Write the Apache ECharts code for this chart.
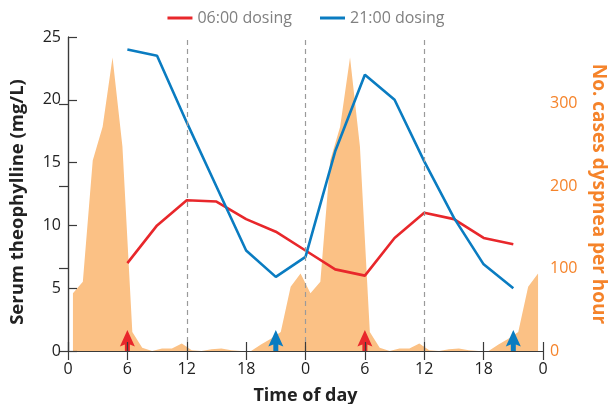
<!DOCTYPE html>
<html>
<head>
<meta charset="utf-8">
<script src="https://cdn.jsdelivr.net/npm/echarts@6/dist/echarts.min.js"></script>
<style>
  html, body { margin: 0; padding: 0; background: #fff; }
  #chart { width: 612px; height: 404px; }
</style>
</head>
<body>
<div id="chart"></div>
<script>
// Sampling hours for serum levels (0-48 h, double-plotted day)
const sampleHours = [6, 9, 12, 15, 18, 21, 24, 27, 30, 33, 36, 39, 42, 45]
const morningDosing = [7.0, 10.0, 12.0, 11.9, 10.5, 9.5, 8.0, 6.5, 6.0, 9.0, 11.0, 10.5, 9.0, 8.5]
const eveningDosing = [24.0, 23.5, 18.2, 13.1, 8.0, 5.9, 7.5, 15.9, 22.0, 20.0, 15.1, 10.6, 6.9, 5.0]

// Dyspnea cases per clock hour (00-01 ... 23-24), shown on both days
const dyspneaPerHour = [70, 84, 231, 272, 356, 248, 23, 4, 0, 3, 3, 9, 1, 0, 2, 3, 1, 0, 0, 8, 15, 23, 78, 94]

const morningDoseHours = [6, 30]
const eveningDoseHours = [21, 45]
const dayBoundaries = [12, 24, 36]
const xTicks = [0, 6, 12, 18, 0, 6, 12, 18, 0]

const RED = '#e8272b'
const BLUE = '#0a7cc1'
const ORANGE_FILL = '#fbc185'
const ORANGE_TEXT = '#f5832a'
const AXIS = '#3a3a3a'
const FONT = 'Open Sans'

const dyspneaData = []
for (let day = 0; day < 2; day++) {
    dyspneaPerHour.forEach((v, i) => dyspneaData.push([day * 24 + i + 0.5, v]))
}

// path arrow: head with shaft, pointing up
const arrowPath = 'path://M7.5,0 L15,16.5 L10,14.5 L10,21 L5,21 L5,14.5 L0,16.5 Z'

const chart = echarts.init(document.getElementById('chart'), null, { renderer: 'canvas' })

const baseX = {
    type: 'value',
    min: 0,
    max: 48,
    interval: 6,
    z: 10,
    axisLine: { lineStyle: { color: AXIS, width: 1.2 } },
    axisTick: { inside: true, length: 9, lineStyle: { color: AXIS, width: 1.2 } },
    splitLine: { show: false },
}

chart.setOption({
    animation: false,
    textStyle: { fontFamily: FONT },
    legend: {
        top: 5,
        left: 'center',
        itemWidth: 25,
        itemHeight: 3,
        itemGap: 28,
        icon: 'rect',
        textStyle: { color: '#808080', fontSize: 16, fontFamily: FONT },
        data: ['06:00 dosing', '21:00 dosing'],
    },
    grid: { left: 68, right: 69, top: 37, bottom: 53, outerBoundsMode: 'none' },
    xAxis: [
        {
            ...baseX,
            position: 'bottom',
            name: 'Time of day',
            nameLocation: 'middle',
            nameGap: 36,
            nameTextStyle: { color: '#222', fontSize: 18, fontWeight: 'bold', fontFamily: FONT },
            axisLabel: {
                color: '#222',
                fontSize: 16,
                margin: 10,
                formatter: (v) => xTicks[v / 6],
            },
        },
        {
            ...baseX,
            position: 'top',
            axisLabel: { show: false },
        },
    ],
    yAxis: [
        {
            type: 'value',
            min: 0,
            max: 25,
            interval: 5,
            z: 10,
            name: 'Serum theophylline (mg/L)',
            nameLocation: 'middle',
            nameRotate: 90,
            nameGap: 41,
            nameTextStyle: {
                color: '#222', fontSize: 18.5, fontWeight: 'bold', fontFamily: FONT,
                padding: [0, 16, 0, 0],
            },
            axisLine: { show: true, lineStyle: { color: AXIS, width: 1.2 } },
            axisTick: { show: true, inside: true, length: 9, lineStyle: { color: AXIS, width: 1.2 } },
            axisLabel: { color: '#222', fontSize: 16, margin: 7 },
            splitLine: { show: false },
        },
        {
            type: 'value',
            min: 0,
            max: 381,
            interval: 100,
            z: 10,
            position: 'right',
            name: 'No. cases dyspnea per hour',
            nameLocation: 'middle',
            nameRotate: -90,
            nameGap: 46,
            nameTextStyle: { color: ORANGE_TEXT, fontSize: 19, fontWeight: 'bold', fontFamily: FONT },
            axisLine: { show: true, lineStyle: { color: AXIS, width: 1.2 } },
            axisTick: { show: true, inside: true, length: 9, lineStyle: { color: AXIS, width: 1.2 } },
            axisLabel: { color: ORANGE_TEXT, fontSize: 16, margin: 7, showMaxLabel: false },
            splitLine: { show: false },
        },
    ],
    series: [
        {
            name: 'boundaries',
            type: 'line',
            data: [],
            z: 1,
            markLine: {
                silent: true,
                symbol: 'none',
                label: { show: false },
                lineStyle: { color: '#9a9a9a', type: [5, 4], width: 1.2 },
                data: dayBoundaries.map(h => ({ xAxis: h })),
            },
        },
        {
            name: 'Dyspnea',
            type: 'line',
            yAxisIndex: 1,
            z: 2,
            showSymbol: false,
            lineStyle: { width: 0 },
            itemStyle: { color: ORANGE_FILL },
            areaStyle: { color: ORANGE_FILL, opacity: 1 },
            data: dyspneaData,
        },
        {
            name: '06:00 dosing',
            type: 'line',
            z: 4,
            showSymbol: false,
            lineStyle: { color: RED, width: 2.6 },
            itemStyle: { color: RED },
            data: sampleHours.map((h, i) => [h, morningDosing[i]]),
        },
        {
            name: '21:00 dosing',
            type: 'line',
            z: 4,
            showSymbol: false,
            lineStyle: { color: BLUE, width: 2.6 },
            itemStyle: { color: BLUE },
            data: sampleHours.map((h, i) => [h, eveningDosing[i]]),
        },
        {
            name: 'morning dose',
            type: 'scatter',
            z: 5,
            clip: false,
            symbol: arrowPath,
            symbolSize: [15, 21],
            symbolOffset: [0, -10.5],
            itemStyle: { color: RED, opacity: 1 },
            data: morningDoseHours.map(h => [h, 0]),
        },
        {
            name: 'evening dose',
            type: 'scatter',
            z: 5,
            clip: false,
            symbol: arrowPath,
            symbolSize: [15, 21],
            symbolOffset: [0, -10.5],
            itemStyle: { color: BLUE, opacity: 1 },
            data: eveningDoseHours.map(h => [h, 0]),
        },
    ],
})
</script>
</body>
</html>
